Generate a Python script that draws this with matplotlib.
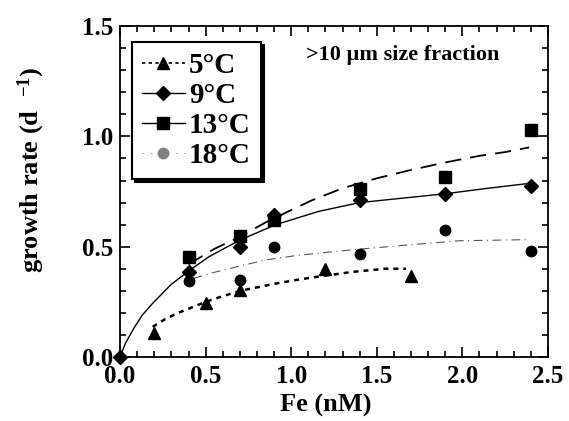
import matplotlib
matplotlib.use("Agg")
import matplotlib.pyplot as plt
from matplotlib.lines import Line2D
from matplotlib.ticker import MultipleLocator

plt.rcParams["font.family"] = ["Liberation Serif", "DejaVu Serif"]
plt.rcParams["font.weight"] = "bold"
plt.rcParams["axes.labelweight"] = "bold"
plt.rcParams["mathtext.fontset"] = "custom"
plt.rcParams["mathtext.rm"] = "Liberation Serif:bold"
plt.rcParams["mathtext.bf"] = "Liberation Serif:bold"
plt.rcParams["mathtext.default"] = "bf"

# measured growth rates
fe_5 = [0.2, 0.5, 0.7, 1.2, 1.7]
mu_5 = [0.107, 0.246, 0.303, 0.40, 0.368]

fe_9 = [0.0, 0.4, 0.7, 0.9, 1.4, 1.9, 2.4]
mu_9 = [0.0, 0.386, 0.50, 0.645, 0.713, 0.738, 0.774]

fe_13 = [0.4, 0.7, 0.9, 1.4, 1.9, 2.4]
mu_13 = [0.454, 0.548, 0.62, 0.763, 0.816, 1.027]

fe_18 = [0.4, 0.7, 0.9, 1.4, 1.9, 2.4]
mu_18 = [0.344, 0.35, 0.50, 0.469, 0.577, 0.48]

# fitted curves
fit5_x = [0.19, 0.26, 0.33, 0.42, 0.50, 0.60, 0.72, 0.91, 1.05, 1.20, 1.36, 1.55, 1.67]
fit5_y = [0.137, 0.17, 0.197, 0.225, 0.25, 0.276, 0.303, 0.333, 0.352, 0.369, 0.386, 0.40, 0.40]

fit9_x = [0.0, 0.03, 0.08, 0.13, 0.19, 0.30, 0.41, 0.52, 0.70, 0.91, 1.16, 1.40, 1.65, 1.90, 2.15, 2.38]
fit9_y = [0.0, 0.06, 0.13, 0.19, 0.243, 0.33, 0.395, 0.455, 0.53, 0.60, 0.66, 0.70, 0.72, 0.74, 0.765, 0.786]

fit13_x = [0.40, 0.55, 0.70, 0.85, 0.97, 1.12, 1.30, 1.50, 1.70, 1.90, 2.10, 2.25, 2.39]
fit13_y = [0.42, 0.49, 0.545, 0.61, 0.655, 0.71, 0.765, 0.81, 0.848, 0.882, 0.912, 0.929, 0.95]

fit18_x = [0.43, 0.52, 0.72, 0.85, 1.03, 1.20, 1.40, 1.67, 1.98, 2.39]
fit18_y = [0.356, 0.378, 0.416, 0.44, 0.46, 0.474, 0.489, 0.507, 0.527, 0.532]

labels = ["5\u00b0C", "9\u00b0C", "13\u00b0C", "18\u00b0C"]

fig = plt.figure(figsize=(5.69, 4.21), dpi=100)
ax = fig.add_axes([0.211, 0.152, 0.752, 0.786])

ax.plot(fit5_x, fit5_y, color="k", lw=1.8, linestyle=(0, (2, 2)))
ax.plot(fit9_x, fit9_y, color="k", lw=1.0)
ax.plot(fit13_x, fit13_y, color="k", lw=1.3, linestyle=(0, (9, 5)))
ax.plot(fit18_x, fit18_y, color="0.35", lw=0.8, linestyle=(0, (8, 4, 1, 4)))

ax.plot(fe_5, mu_5, "^", color="k", ms=8, clip_on=False)
ax.plot(fe_9, mu_9, "D", color="k", ms=7, clip_on=False)
ax.plot(fe_13, mu_13, "s", color="k", ms=8.5, clip_on=False)
ax.plot(fe_18, mu_18, "o", color="k", ms=7.5, clip_on=False)

ax.set_xlim(0, 2.5)
ax.set_ylim(0, 1.5)
ax.xaxis.set_major_locator(MultipleLocator(0.5))
ax.xaxis.set_minor_locator(MultipleLocator(0.1))
ax.yaxis.set_major_locator(MultipleLocator(0.5))
ax.yaxis.set_minor_locator(MultipleLocator(0.1))
ax.tick_params(which="both", direction="in", top=True, right=True, width=1.2)
ax.tick_params(which="major", length=7, labelsize=18)
ax.tick_params(axis="x", which="major", pad=6)
ax.tick_params(axis="y", which="major", pad=5)
ax.tick_params(which="minor", length=4)
for s in ax.spines.values():
    s.set_linewidth(1.3)

ax.set_xlabel("Fe (nM)", fontsize=19)
ax.xaxis.set_label_coords(0.48, -0.112)
ax.set_ylabel("growth rate (d  $^{-1}$)", fontsize=19)
ax.yaxis.set_label_coords(-0.17, 0.565)

ax.text(0.435, 0.912, ">10 \u00b5m size fraction", transform=ax.transAxes,
        fontsize=16, va="center", ha="left")

handles = [
    Line2D([], [], color="k", lw=1.2, linestyle=(0, (2, 2)), marker="^", ms=8),
    Line2D([], [], color="k", lw=1.0, marker="D", ms=7),
    Line2D([], [], color="k", lw=1.0, marker="s", ms=8.5),
    Line2D([], [], color="0.5", lw=0.6, linestyle=(0, (2, 8)), marker="o", ms=7.5),
]
leg = ax.legend(handles, labels, loc="upper left", bbox_to_anchor=(0.028, 0.952),
                fontsize=21, frameon=True, fancybox=False, shadow={"color": "k", "alpha": 1},
                edgecolor="k", handlelength=1.45, handletextpad=0.15, labelspacing=0.1,
                borderpad=0.35, borderaxespad=0)
leg.get_frame().set_linewidth(1.5)

fig.savefig("out.png", dpi=100)
